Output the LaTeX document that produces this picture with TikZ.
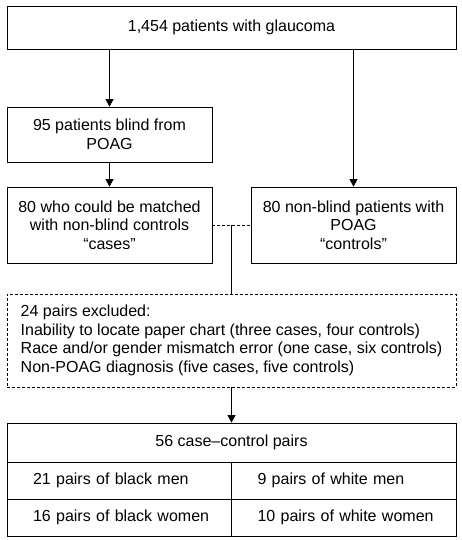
\documentclass[tikz,border=0pt]{standalone}
\usepackage{fontspec}
\setmainfont{Liberation Sans}
\usetikzlibrary{arrows.meta,calc}

\begin{document}
\begin{tikzpicture}[x=1pt,y=-1pt,
  font=\fontsize{16}{18.7}\selectfont,
  box/.style={draw,line width=0.8pt,align=center,inner sep=0pt},
  cell/.style={draw,line width=0.8pt,minimum width=224.5,minimum height=37,
    text width=224.5pt,inner sep=0pt,align=left,
    execute at begin node={\hspace*{26pt}}},
  link/.style={line width=0.8pt},
  arr/.style={line width=0.8pt,-{Triangle[width=8pt,length=7.5pt]}}]
\useasboundingbox (0,0) rectangle (462,540);
%-------------- boxes --------------------
\node [box,minimum width=449,minimum height=43] (all) at (231.5,27.5)
  {1,454 patients with glaucoma};
\node [box,minimum width=205,minimum height=55] (blind) at (109.5,134.5)
  {95 patients blind from\\POAG};
\node [box,minimum width=205,minimum height=76] (cases) at (109.5,225)
  {80 who could be matched\\with non-blind controls\\“cases”};
\node [box,minimum width=205,minimum height=76] (controls) at (353.5,225)
  {80 non-blind patients with\\POAG\\“controls”};

%-------------- excluded --------------------
\node [box,dash pattern=on 3pt off 2pt,minimum width=449,minimum height=93,
  align=left] (excl) at (231.5,340.5)
  {24 pairs excluded:\\
   Inability to locate paper chart (three cases, four controls)\\
   Race and/or gender mismatch error (one case, six controls)\\
   Non-POAG diagnosis (five cases, five controls)};

%-------------- table --------------------
\node [box,minimum width=449,minimum height=39] (pairs) at (231.5,442.5)
  {56 case–control pairs};
\node [cell] (bm) at (119.25,480.5) {21 pairs of black men};
\node [cell] (wm) at (343.75,480.5) {9 pairs of white men};
\node [cell] (bw) at (119.25,517.5) {16 pairs of black women};
\node [cell] (ww) at (343.75,517.5) {10 pairs of white women};

%-------------- connectors --------------------
\coordinate (mid) at ($(cases.east)!0.5!(controls.west)$);
\draw [arr] (all.south -| blind) -- (blind);
\draw [arr] (blind) -- (cases);
\draw [arr] (all.south -| controls) -- (controls);
\draw [link,dash pattern=on 3pt off 2pt] (cases.east) -- (controls.west);
\draw [link] (mid) -- (mid |- excl.north);
\draw [arr] (excl) -- (pairs);

\end{tikzpicture}
\end{document}
